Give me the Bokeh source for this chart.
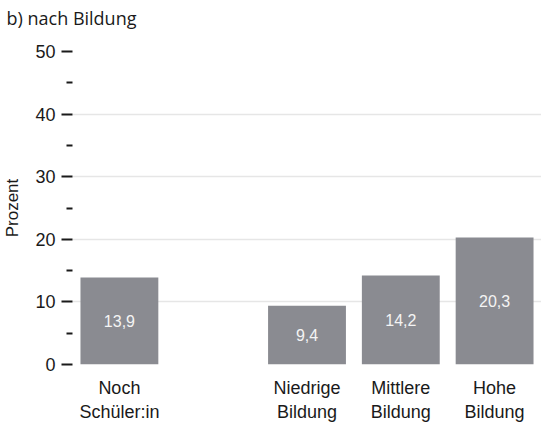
from bokeh.plotting import figure
from bokeh.models import FactorRange, Range1d, FixedTicker, ColumnDataSource, Title
from bokeh.core.properties import value
from bokeh.embed import file_html
from bokeh.resources import INLINE

# Data
title_text = "b) nach Bildung"
categories = ["Noch\nSchüler:in", " ", "Niedrige\nBildung", "Mittlere\nBildung", "Hohe\nBildung"]
bar_categories = ["Noch\nSchüler:in", "Niedrige\nBildung", "Mittlere\nBildung", "Hohe\nBildung"]
values = [13.9, 9.4, 14.2, 20.3]
value_labels = ["13,9", "9,4", "14,2", "20,3"]
y_ticks = [0, 10, 20, 30, 40, 50]
y_minor_ticks = [5, 15, 25, 35, 45]

BAR_COLOR = "#8a8b91"
TEXT_COLOR = "#1a1a1a"
AXIS_FONT = "Liberation Sans"

source = ColumnDataSource(data=dict(
    cat=bar_categories,
    val=values,
    half=[v / 2 for v in values],
    lab=value_labels,
))

p = figure(
    x_range=FactorRange(*categories, range_padding=0),
    y_range=Range1d(0, 50),
    width=541, height=424,
    output_backend="svg",
    toolbar_location=None,
    title=None,
    min_border_left=66, min_border_right=0,
    min_border_top=30, min_border_bottom=60,
)

# spacer between title and plot area (nearest to the frame)
p.add_layout(Title(text=" ", text_font_size="3px"), "above")
p.add_layout(Title(text=title_text, align="left", offset=-66,
                   vertical_align="top",
                   text_font="Open Sans", text_font_style="normal",
                   text_font_size="18px", text_color=TEXT_COLOR), "above")

p.vbar(x="cat", top="val", width=0.83, source=source,
       fill_color=BAR_COLOR, line_color=None)

p.text(x="cat", y="half", text="lab", source=source,
       text_align="center", text_baseline="middle",
       text_color="#f4f4f4", text_font=value(AXIS_FONT), text_font_size="16px")

p.outline_line_color = None
p.background_fill_color = "white"
p.border_fill_color = "white"

# grid
p.xgrid.grid_line_color = None
p.ygrid.grid_line_color = "#e6e6e6"
p.ygrid.grid_line_width = 1.5
p.ygrid.ticker = FixedTicker(ticks=y_ticks)

# y axis
ya = p.yaxis[0]
ya.ticker = FixedTicker(ticks=y_ticks, minor_ticks=y_minor_ticks)
ya.axis_line_color = None
ya.major_tick_in = 0
ya.major_tick_out = 11
ya.major_tick_line_width = 2
ya.major_tick_line_color = TEXT_COLOR
ya.minor_tick_in = 0
ya.minor_tick_out = 6
ya.minor_tick_line_width = 2
ya.minor_tick_line_color = TEXT_COLOR
ya.major_label_standoff = 6
ya.major_label_text_font = AXIS_FONT
ya.major_label_text_font_size = "18px"
ya.major_label_text_color = TEXT_COLOR
ya.axis_label = "Prozent"
ya.axis_label_text_font = AXIS_FONT
ya.axis_label_text_font_size = "17px"
ya.axis_label_text_font_style = "normal"
ya.axis_label_text_color = TEXT_COLOR
ya.axis_label_standoff = 10

# x axis
xa = p.xaxis[0]
xa.axis_line_color = None
xa.major_tick_line_color = None
xa.minor_tick_line_color = None
xa.major_tick_out = 0
xa.major_label_standoff = 13
xa.major_label_text_font = AXIS_FONT
xa.major_label_text_font_size = "18px"
xa.major_label_text_color = TEXT_COLOR

open("out.html", "w").write(file_html(p, INLINE))
